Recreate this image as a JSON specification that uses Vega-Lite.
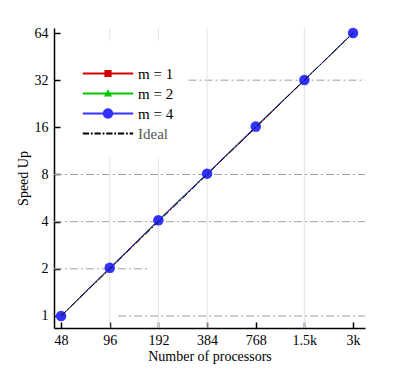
{
  "$schema": "https://vega.github.io/schema/vega-lite/v6.json",
  "width": 311,
  "height": 300,
  "autosize": {"type": "none"},
  "padding": {"left": 54, "top": 28, "right": 50, "bottom": 41},
  "background": "white",
  "config": {
    "view": {"stroke": null},
    "font": "Liberation Serif",
    "legend": {"labelFont": "Liberation Serif", "labelFontSize": 15, "labelColor": "black", "labelFontWeight": "normal",
      "symbolStrokeWidth": 0, "symbolOpacity": 1, "padding": 0, "rowPadding": 4, "labelLimit": 0}
  },
  "datasets": {
    "perf": [
      {"n": 48, "s": 1, "series": "m = 1"},
      {"n": 96, "s": 2.0, "series": "m = 1"},
      {"n": 192, "s": 4.05, "series": "m = 1"},
      {"n": 384, "s": 8.05, "series": "m = 1"},
      {"n": 768, "s": 15.9, "series": "m = 1"},
      {"n": 1536, "s": 32, "series": "m = 1"},
      {"n": 3072, "s": 64, "series": "m = 1"},
      {"n": 48, "s": 1, "series": "m = 2"},
      {"n": 96, "s": 2.02, "series": "m = 2"},
      {"n": 192, "s": 4.1, "series": "m = 2"},
      {"n": 384, "s": 8.1, "series": "m = 2"},
      {"n": 768, "s": 16.1, "series": "m = 2"},
      {"n": 1536, "s": 32, "series": "m = 2"},
      {"n": 3072, "s": 64, "series": "m = 2"},
      {"n": 48, "s": 1, "series": "m = 4"},
      {"n": 96, "s": 2.03, "series": "m = 4"},
      {"n": 192, "s": 4.08, "series": "m = 4"},
      {"n": 384, "s": 8.1, "series": "m = 4"},
      {"n": 768, "s": 16.2, "series": "m = 4"},
      {"n": 1536, "s": 32.1, "series": "m = 4"},
      {"n": 3072, "s": 64, "series": "m = 4"},
      {"n": 48, "s": 1, "series": "Ideal"},
      {"n": 96, "s": 2, "series": "Ideal"},
      {"n": 192, "s": 4, "series": "Ideal"},
      {"n": 384, "s": 8, "series": "Ideal"},
      {"n": 768, "s": 16, "series": "Ideal"},
      {"n": 1536, "s": 32, "series": "Ideal"},
      {"n": 3072, "s": 64, "series": "Ideal"}
    ],
    "hgrid": [
      {"s": 32, "n": 295, "n2": 3643},
      {"s": 8, "n": 43.4, "n2": 3643},
      {"s": 4, "n": 43.4, "n2": 3643},
      {"s": 2, "n": 43.4, "n2": 170},
      {"s": 1, "n": 108, "n2": 3643}
    ],
    "vgrid": [
      {"n": 96, "s": 57.7, "s2": 68.9},
      {"n": 96, "s": 0.838, "s2": 10.3},
      {"n": 192, "s": 57.7, "s2": 68.9},
      {"n": 192, "s": 0.838, "s2": 10.3},
      {"n": 384, "s": 0.838, "s2": 68.9},
      {"n": 1536, "s": 0.838, "s2": 68.9}
    ]
  },
  "layer": [
    {
      "data": {"name": "hgrid"},
      "mark": {"type": "rule", "color": "#a0a0a0", "strokeWidth": 1, "strokeDash": [8, 3, 2, 3]},
      "encoding": {
        "x": {"field": "n", "type": "quantitative", "scale": {"type": "log", "domain": [43.4, 3643], "nice": false, "zero": false},
          "axis": {"values": [48, 96, 192, 384, 768, 1536, 3072],
            "labelExpr": "datum.value == 1536 ? '1.5k' : datum.value == 3072 ? '3k' : format(datum.value, 'd')",
            "title": "Number of processors", "grid": false, "tickSize": -6, "tickColor": "black", "tickWidth": 1.5,
            "domainColor": "black", "domainWidth": 1.5, "labelFontSize": 14, "labelColor": "black",
            "labelFont": "Liberation Serif", "titleFont": "Liberation Serif", "titleFontSize": 14,
            "titleFontWeight": "normal", "titleColor": "black", "labelPadding": 11, "titlePadding": 2,
            "labelFlush": false, "labelOverlap": false}},
        "x2": {"field": "n2"},
        "y": {"field": "s", "type": "quantitative", "scale": {"type": "log", "base": 2, "domain": [0.838, 68.9], "nice": false, "zero": false},
          "axis": {"values": [1, 2, 4, 8, 16, 32, 64], "format": "d", "title": "Speed Up", "grid": false,
            "tickSize": -6, "tickColor": "black", "tickWidth": 1.5, "domainColor": "black", "domainWidth": 1.5,
            "labelFontSize": 14, "labelColor": "black", "labelFont": "Liberation Serif", "titleFont": "Liberation Serif",
            "titleFontSize": 14, "titleFontWeight": "normal", "titleColor": "black", "labelPadding": 12, "titlePadding": 4,
            "labelOverlap": false}}
      }
    },
    {
      "data": {"name": "vgrid"},
      "mark": {"type": "rule", "color": "#e2e2e2", "strokeWidth": 1},
      "encoding": {
        "x": {"field": "n", "type": "quantitative"},
        "y": {"field": "s", "type": "quantitative"},
        "y2": {"field": "s2"}
      }
    },
    {
      "data": {"name": "perf"},
      "transform": [{"filter": "datum.series != 'Ideal'"}],
      "mark": {"type": "line", "strokeWidth": 1},
      "encoding": {
        "x": {"field": "n", "type": "quantitative"},
        "y": {"field": "s", "type": "quantitative"},
        "stroke": {"field": "series", "type": "nominal", "legend": null,
          "scale": {"domain": ["m = 1", "m = 2", "m = 4"], "range": ["#d40000", "#00c800", "#3232ff"]}}
      }
    },
    {
      "data": {"name": "perf"},
      "transform": [{"filter": "datum.series == 'm = 1'"}],
      "mark": {"type": "point", "filled": true, "opacity": 1, "size": 50, "shape": "square", "color": "#d40000"},
      "encoding": {
        "x": {"field": "n", "type": "quantitative"},
        "y": {"field": "s", "type": "quantitative"}
      }
    },
    {
      "data": {"name": "perf"},
      "transform": [{"filter": "datum.series == 'm = 2'"}],
      "mark": {"type": "point", "filled": true, "opacity": 1, "size": 50, "shape": "triangle-up", "color": "#00c800"},
      "encoding": {
        "x": {"field": "n", "type": "quantitative"},
        "y": {"field": "s", "type": "quantitative"}
      }
    },
    {
      "data": {"name": "perf"},
      "transform": [{"filter": "datum.series == 'm = 4'"}],
      "mark": {"type": "point", "filled": true, "opacity": 1, "size": 110, "shape": "circle", "color": "#3232ff"},
      "encoding": {
        "x": {"field": "n", "type": "quantitative"},
        "y": {"field": "s", "type": "quantitative"}
      }
    },
    {
      "data": {"name": "perf"},
      "transform": [{"filter": "datum.series == 'Ideal'"}],
      "mark": {"type": "line", "color": "black", "strokeWidth": 1, "strokeDash": [7, 2, 2, 2]},
      "encoding": {
        "x": {"field": "n", "type": "quantitative"},
        "y": {"field": "s", "type": "quantitative"}
      }
    },
    {
      "data": {"name": "perf"},
      "mark": {"type": "point", "filled": true, "opacity": 0, "size": 81},
      "encoding": {
        "x": {"field": "n", "type": "quantitative"},
        "y": {"field": "s", "type": "quantitative"},
        "color": {"field": "series", "type": "nominal",
          "scale": {"domain": ["m = 1", "m = 2", "m = 4", "Ideal"], "range": ["#d40000", "#00c800", "#3232ff", "#000000"]},
          "legend": {"orient": "none", "legendX": 46.5, "legendY": 38, "title": null, "symbolSize": 81,
            "labelOffset": 22.5, "labelFont": "Liberation Serif",
            "encode": {"labels": {"update": {"font": {"value": "Liberation Serif"}, "fontSize": {"value": 15}, "fontWeight": {"value": "normal"},
              "fill": {"signal": "datum.label == 'Ideal' ? '#555555' : '#000000'"}}}}}},
        "shape": {"field": "series", "type": "nominal",
          "scale": {"domain": ["m = 1", "m = 2", "m = 4", "Ideal"],
            "range": [
              "M-5.6,-0.2H5.6V0.2H-5.6Z M-0.8,-0.8H0.8V0.8H-0.8Z",
              "M-5.6,-0.2H5.6V0.2H-5.6Z M0,-0.95L0.9,0.65H-0.9Z",
              "M-5.6,-0.2H5.6V0.2H-5.6Z M1.15,0A1.15,1.15 0 1,1 -1.15,0A1.15,1.15 0 1,1 1.15,0Z",
              "M-5.6,-0.2H-4.2V0.2H-5.6Z M-3.8,-0.2H-3.4V0.2H-3.8Z M-3.0,-0.2H-1.6V0.2H-3.0Z M-1.2,-0.2H-0.8V0.2H-1.2Z M-0.4,-0.2H1.0V0.2H-0.4Z M1.4,-0.2H1.8V0.2H1.4Z M2.2,-0.2H3.6V0.2H2.2Z M4.0,-0.2H4.4V0.2H4.0Z M4.8,-0.2H5.6V0.2H4.8Z"
            ]},
          "legend": {"orient": "none", "legendX": 46.5, "legendY": 38, "title": null, "symbolSize": 81,
            "labelOffset": 22.5, "labelFont": "Liberation Serif",
            "encode": {"labels": {"update": {"font": {"value": "Liberation Serif"}, "fontSize": {"value": 15}, "fontWeight": {"value": "normal"},
              "fill": {"signal": "datum.label == 'Ideal' ? '#555555' : '#000000'"}}}}}}
      }
    }
  ]
}
